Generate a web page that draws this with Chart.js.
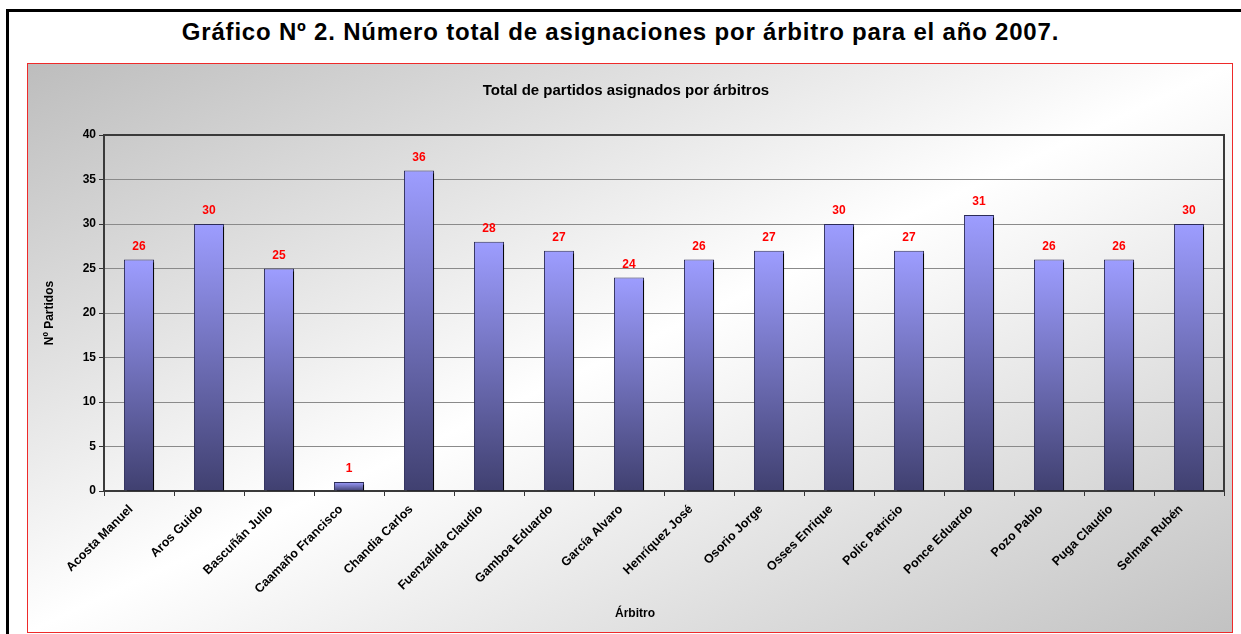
<!DOCTYPE html>
<html>
<head>
<meta charset="utf-8">
<script src="https://cdn.jsdelivr.net/npm/chart.js@4.4.1/dist/chart.umd.min.js"></script>
<style>
    body { margin: 0; width: 1241px; height: 634px; overflow: hidden; position: relative; background: #fff; font-family: Arial, "Liberation Sans", sans-serif; }
    #frame { position: absolute; left: 6px; top: 9px; width: 1300px; height: 700px; border: 3px solid #000; }
    #heading { position: absolute; left: 0; top: 19px; width: 1241px; text-align: center; font-weight: bold; font-size: 24px; line-height: 26px; letter-spacing: 0.8px; }
    #box { position: absolute; left: 27px; top: 63px; width: 1204px; height: 568px; border: 1px solid #ee2a2a;
        background: linear-gradient(to bottom right, #bdbdbd 0%, #ffffff 50%, #c2c2c2 100%); }
    #chart { display: block; }
</style>
</head>
<body>
<div id="frame"></div>
<div id="heading">Gráfico Nº 2. Número total de asignaciones por árbitro para el año 2007.</div>
<div id="box"><canvas id="chart" width="1204" height="568"></canvas></div>
<script>
const arbitros = ['Acosta Manuel', 'Aros Guido', 'Bascuñán Julio', 'Caamaño Francisco', 'Chandia Carlos',
    'Fuenzalida Claudio', 'Gamboa Eduardo', 'García Alvaro', 'Henríquez José', 'Osorio Jorge',
    'Osses Enrique', 'Polic Patricio', 'Ponce Eduardo', 'Pozo Pablo', 'Puga Claudio', 'Selman Rubén'];
const partidos = [26, 30, 25, 1, 36, 28, 27, 24, 26, 27, 30, 27, 31, 26, 26, 30];
const yMin = 0;
const yMax = 40;
const yStep = 5;
const xTitle = 'Árbitro';

const FONT = 'Arial, "Liberation Sans", sans-serif';
const bold = (size) => ({ family: FONT, size, weight: 'bold' });

// black drop shadow to the right of each bar
const barShadow = {
    id: 'barShadow',
    beforeDatasetDraw(chart) {
        const ctx = chart.ctx;
        ctx.save();
        ctx.shadowColor = '#000';
        ctx.shadowOffsetX = 3;
        ctx.shadowOffsetY = 2;
        ctx.shadowBlur = 0;
    },
    afterDatasetDraw(chart) {
        chart.ctx.restore();
    }
};

const plotFrame = {
    id: 'plotFrame',
    beforeDatasetsDraw(chart) {
        const { ctx, chartArea: a } = chart;
        ctx.save();
        ctx.strokeStyle = '#3a3a3a';
        ctx.lineWidth = 2;
        ctx.strokeRect(a.left, a.top, a.right - a.left, a.bottom - a.top);
        ctx.restore();
    }
};

const valueLabels = {
    id: 'valueLabels',
    afterDatasetsDraw(chart) {
        const ctx = chart.ctx;
        const meta = chart.getDatasetMeta(0);
        ctx.save();
        ctx.fillStyle = '#ff0000';
        ctx.font = 'bold 12px ' + FONT;
        ctx.textAlign = 'center';
        ctx.textBaseline = 'bottom';
        meta.data.forEach((bar, i) => {
            ctx.fillText(String(partidos[i]), bar.x, bar.y - 7);
        });
        ctx.restore();
    }
};

// x axis title sits centred on the whole chart box, not the plot
const xAxisTitle = {
    id: 'xAxisTitle',
    afterDraw(chart) {
        const ctx = chart.ctx;
        ctx.save();
        ctx.fillStyle = '#000';
        ctx.font = 'bold 12px ' + FONT;
        ctx.textAlign = 'center';
        ctx.textBaseline = 'middle';
        ctx.fillText(xTitle, chart.width / 2 + 5, chart.height - 18);
        ctx.restore();
    }
};

function barGradient(c) {
    const chart = c.chart;
    if (!chart.chartArea || c.type !== 'data') return '#9999ff';
    const y = chart.scales.y;
    const top = y.getPixelForValue(c.raw);
    const base = y.getPixelForValue(0);
    const g = chart.ctx.createLinearGradient(0, top, 0, base);
    g.addColorStop(0, '#9d9dff');
    g.addColorStop(1, '#404070');
    return g;
}

window.onload = function () {
    new Chart(document.getElementById('chart'), {
        type: 'bar',
        data: {
            labels: arbitros,
            datasets: [{
                data: partidos,
                backgroundColor: barGradient,
                borderColor: '#2c2c58',
                borderWidth: 1,
                barPercentage: 0.43,
                categoryPercentage: 1,
            }]
        },
        options: {
            responsive: false,
            animation: false,
            layout: { padding: { top: 18, right: 8, bottom: 0, left: 0 } },
            plugins: {
                legend: { display: false },
                tooltip: { enabled: false },
                title: {
                    display: true,
                    text: 'Total de partidos asignados por árbitros',
                    color: '#000',
                    font: bold(15),
                    padding: { top: 0, bottom: 35 },
                },
            },
            scales: {
                x: {
                    afterFit: (scale) => { scale.height = 141; },
                    border: { display: false },
                    grid: { display: true, drawOnChartArea: false, offset: true, tickColor: '#333', tickLength: 5 },
                    ticks: { color: '#000', font: bold(12.5), minRotation: 45, maxRotation: 45, autoSkip: false, padding: 6, labelOffset: -8 },
                    title: { display: false },
                },
                y: {
                    min: yMin,
                    max: yMax,
                    afterFit: (scale) => { scale.width = 76; },
                    border: { display: false },
                    grid: { color: '#8a8a8a', lineWidth: 1, tickColor: '#333', tickLength: 5 },
                    ticks: { stepSize: yStep, color: '#000', font: bold(12), padding: 3 },
                    title: { display: true, text: 'Nº Partidos', color: '#000', font: bold(12), padding: { top: 14, bottom: 0 } },
                },
            },
        },
        plugins: [plotFrame, barShadow, valueLabels, xAxisTitle],
    });
};
</script>
</body>
</html>
